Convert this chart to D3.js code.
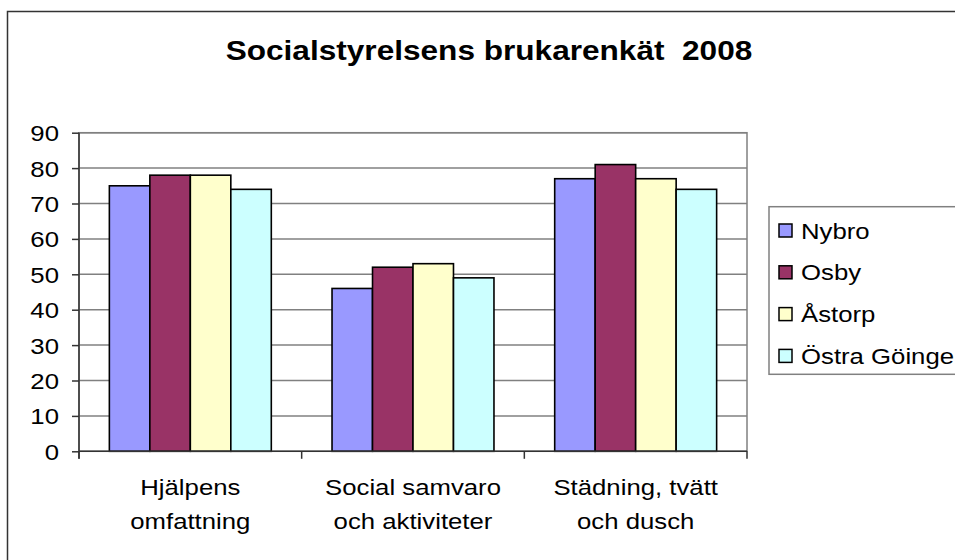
<!DOCTYPE html>
<meta charset="utf-8">
<style>
body { margin: 0; background: #fff; }
svg { display: block; font-family: Arial, "Liberation Sans", sans-serif; }
</style>
<script src="https://d3js.org/d3.v7.min.js"></script>
<body>
<svg id="chart" width="955" height="560"></svg>
<script>

// ---- data ----
var categories = ["Hjälpens\nomfattning", "Social samvaro\noch aktiviteter", "Städning, tvätt\noch dusch"];
var seriesNames = ["Nybro", "Osby", "Åstorp", "Östra Göinge"];
var nybro  = [75, 46, 77];
var osby   = [78, 52, 81];
var astorp = [78, 53, 77];
var ostra  = [74, 49, 74];
var yTicks = [0, 10, 20, 30, 40, 50, 60, 70, 80, 90];
var colors = ["#9999ff", "#993366", "#ffffcc", "#ccffff"];

var values = [nybro, osby, astorp, ostra];

// text in the picture is a bit wider than normal Arial
var stretch = 1.17;

var svg = d3.select("#chart");

var plot = {left: 79, right: 747, top: 132.7, bottom: 451.3};

var y = d3.scaleLinear().domain([0, 90]).range([plot.bottom, plot.top]);
var x0 = d3.scaleBand().domain(categories).range([plot.left, plot.right]);
var x1 = d3.scaleBand().domain(seriesNames).range([0, x0.bandwidth()])
    .paddingInner(0).paddingOuter(0.75);

function label(g, x, yy, txt, size, weight, anchor) {
  return g.append("text")
      .attr("transform", "translate(" + x + "," + yy + ") scale(" + stretch + ",1)")
      .attr("text-anchor", anchor || "start")
      .attr("font-size", size)
      .attr("font-weight", weight || "normal")
      .attr("fill", "#000")
      .text(txt);
}

// outer chart frame (right/bottom are off the picture)
svg.append("path")
    .attr("d", "M7.5,570 V11.5 H970")
    .attr("fill", "none")
    .attr("stroke", "#333")
    .attr("stroke-width", 1.5);

// title
label(svg, 489, 59.5, "Socialstyrelsens brukarenkät  2008", 27, "bold", "middle")
    .attr("xml:space", "preserve")
    .style("white-space", "pre");

// plot frame
svg.append("rect")
    .attr("x", plot.left).attr("y", plot.top)
    .attr("width", plot.right - plot.left).attr("height", plot.bottom - plot.top)
    .attr("fill", "none").attr("stroke", "#808080").attr("stroke-width", 1.5);

// gridlines
svg.append("g").selectAll("line")
    .data(yTicks.filter(function(d) { return d > 0; }))
    .enter().append("line")
      .attr("x1", plot.left).attr("x2", plot.right)
      .attr("y1", function(d) { return y(d); })
      .attr("y2", function(d) { return y(d); })
      .attr("stroke", "#808080")
      .attr("stroke-width", 1.5);

// bars
var groups = svg.append("g").selectAll("g")
    .data(categories)
    .enter().append("g")
      .attr("transform", function(d) { return "translate(" + x0(d) + ",0)"; });

groups.selectAll("rect")
    .data(function(c, ci) {
      return seriesNames.map(function(s, si) { return {s: s, i: si, v: values[si][ci]}; });
    })
    .enter().append("rect")
      .attr("x", function(d) { return x1(d.s); })
      .attr("y", function(d) { return y(d.v); })
      .attr("width", x1.bandwidth())
      .attr("height", function(d) { return y(0) - y(d.v); })
      .attr("fill", function(d) { return colors[d.i]; })
      .attr("stroke", "#000")
      .attr("stroke-width", 1.6);

// y axis
var yAxis = svg.append("g")
    .attr("transform", "translate(" + plot.left + ",0)")
    .call(d3.axisLeft(y).tickValues(yTicks).tickSize(7).tickPadding(10).tickSizeOuter(0));
yAxis.select(".domain").attr("stroke", "#333").attr("stroke-width", 1.5)
    .attr("d", "M0," + plot.top + "V" + (plot.bottom + 7.5));
yAxis.selectAll(".tick line").attr("stroke", "#333").attr("stroke-width", 1.5);
yAxis.selectAll(".tick text")
    .attr("font-size", 22)
    .attr("font-family", "Arial, 'Liberation Sans', sans-serif")
    .attr("fill", "#000")
    .attr("dy", "0.36em")
    .attr("transform", "scale(" + stretch + ",1)")
    .attr("x", -20 / stretch);

// category axis
svg.append("line")
    .attr("x1", plot.left).attr("x2", plot.right)
    .attr("y1", plot.bottom).attr("y2", plot.bottom)
    .attr("stroke", "#333").attr("stroke-width", 1.5);

var bounds = categories.map(function(c) { return x0(c); }).concat([plot.right]);
svg.append("g").selectAll("line")
    .data(bounds)
    .enter().append("line")
      .attr("x1", function(d) { return d; }).attr("x2", function(d) { return d; })
      .attr("y1", plot.bottom).attr("y2", plot.bottom + 7.5)
      .attr("stroke", "#333").attr("stroke-width", 1.5);

categories.forEach(function(c) {
  var cx = x0(c) + x0.bandwidth() / 2;
  c.split("\n").forEach(function(line, li) {
    label(svg, cx, 495 + li * 34, line, 22, "normal", "middle");
  });
});

// legend
var lg = svg.append("g");
lg.append("rect")
    .attr("x", 769).attr("y", 206.7)
    .attr("width", 230).attr("height", 167.6)
    .attr("fill", "#fff").attr("stroke", "#808080").attr("stroke-width", 1.5);

seriesNames.forEach(function(s, i) {
  var cy = 230.5 + i * 41.8;
  lg.append("rect")
      .attr("x", 779).attr("y", cy - 6.5)
      .attr("width", 13).attr("height", 13)
      .attr("fill", colors[i]).attr("stroke", "#000").attr("stroke-width", 1.5);
  label(lg, 801, cy + 8, s, 22, "normal", "start");
});

</script>
</body>
